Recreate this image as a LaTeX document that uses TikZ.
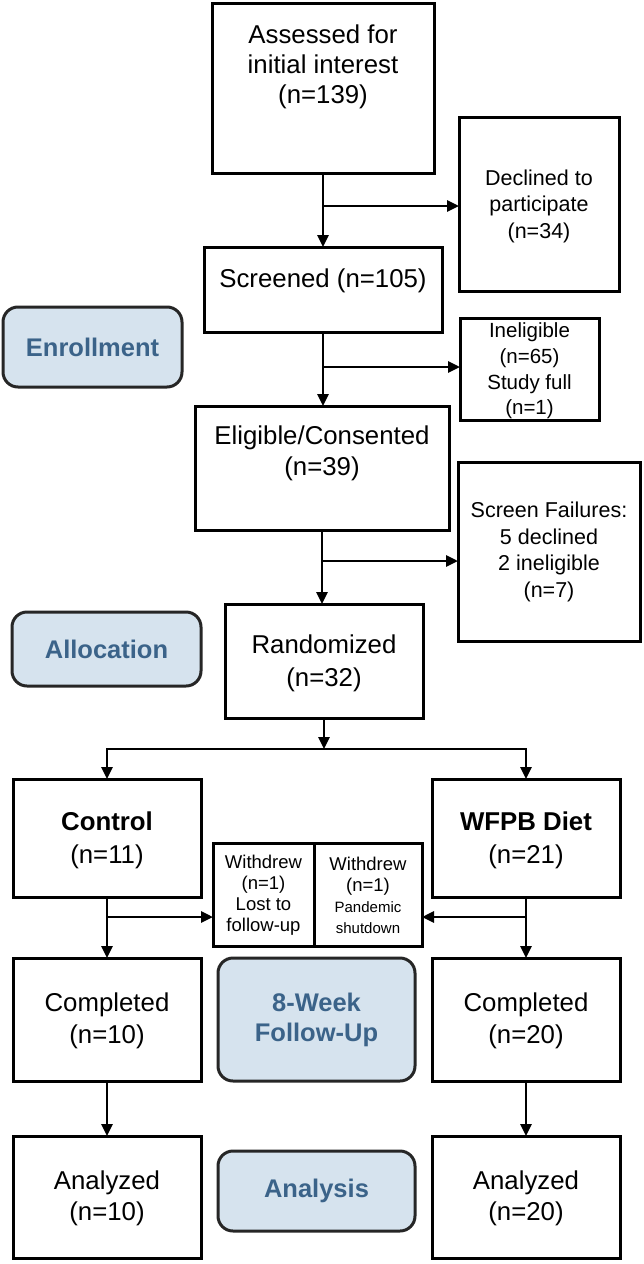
\documentclass[tikz,border=0pt]{standalone}
\usepackage{fontspec}
\setmainfont{Liberation Sans}
\usetikzlibrary{arrows.meta,calc}
\definecolor{lblue}{HTML}{D6E3EE}
\definecolor{dblue}{HTML}{3B6389}
\begin{document}
\begin{tikzpicture}[x=1pt,y=-1pt,
  box/.style={draw, line width=3pt, inner sep=0pt, outer sep=0pt},
  lab/.style={draw=black!85, line width=3pt, rounded corners=15pt, fill=lblue, inner sep=0pt, outer sep=0pt, text=dblue, align=center, font=\fontsize{25.5}{30}\selectfont\bfseries},
  txt/.style={align=center, inner sep=0pt, font=\fontsize{25.8}{30}\selectfont},
  side/.style={align=center, inner sep=0pt, font=\fontsize{21.5}{26.5}\selectfont},
  small/.style={align=center, inner sep=0pt, font=\fontsize{18.5}{21}\selectfont},
  arr/.style={line width=2.8pt, -{Triangle[length=12pt,width=11pt]}}
]
\useasboundingbox (0,0) rectangle (644,1264);

% boxes
\node[box, minimum width=222pt, minimum height=170pt] (assessed) at (323,88) {};
\node[box, minimum width=160pt, minimum height=174pt] (declined) at (539,204) {};
\node[box, minimum width=238pt, minimum height=85pt] (screened) at (323,289.5) {};
\node[lab, minimum width=179pt, minimum height=80pt] (enroll) at (92.5,347) {Enrollment};
\node[box, minimum width=139pt, minimum height=102pt] (inelig) at (529.5,369) {};
\node[box, minimum width=254pt, minimum height=124pt] (eligible) at (322,468) {};
\node[box, minimum width=182pt, minimum height=179pt] (sfail) at (549,551.5) {};
\node[box, minimum width=198pt, minimum height=114pt] (random) at (324,661) {};
\node[lab, minimum width=189pt, minimum height=74pt] (alloc) at (106.5,649) {Allocation};
\node[box, minimum width=188pt, minimum height=118pt] (control) at (107,838) {};
\node[box, minimum width=188pt, minimum height=118pt] (wfpb) at (526,838) {};
\node[box, minimum width=101pt, minimum height=103pt] (wl) at (263.5,894.5) {};
\node[box, minimum width=108pt, minimum height=103pt] (wr) at (368,894.5) {};
\node[box, minimum width=188pt, minimum height=123pt] (comp1) at (107,1019.5) {};
\node[lab, minimum width=197pt, minimum height=123pt] (follow) at (316.5,1019.5) {8-Week\\Follow-Up};
\node[box, minimum width=188pt, minimum height=123pt] (comp2) at (526,1019.5) {};
\node[box, minimum width=188pt, minimum height=122pt] (anal1) at (107,1197) {};
\node[lab, minimum width=197pt, minimum height=80pt] (analysis) at (316.5,1191) {Analysis};
\node[box, minimum width=188pt, minimum height=122pt] (anal2) at (526,1197) {};

% texts
\node[txt] (assessed-t) at (323,67) {Assessed for\\initial interest\\(n=139)};
\node[side] (declined-t) at (539,206) {Declined to\\participate\\(n=34)};
\node[txt] (screened-t) at (323,281) {Screened (n=105)};
\node[side, font=\fontsize{20.5}{25.7}\selectfont] (inelig-t) at (529.5,371) {Ineligible\\(n=65)\\Study full\\(n=1)};
\node[txt, font=\fontsize{25.8}{31}\selectfont] (eligible-t) at (322,453) {Eligible/Consented\\(n=39)};
\node[side] (sfail-t) at (549,552) {Screen Failures:\\5 declined\\2 ineligible\\(n=7)};
\node[txt, font=\fontsize{25.8}{33}\selectfont] (random-t) at (324,663) {Randomized\\(n=32)};
\node[txt, font=\fontsize{25.8}{33}\selectfont] (control-t) at (107,840) {\textbf{Control}\\(n=11)};
\node[txt, font=\fontsize{25.8}{33}\selectfont] (wfpb-t) at (526,840) {\textbf{WFPB Diet}\\(n=21)};
\node[small] (wl-t) at (263.5,895) {Withdrew\\(n=1)\\Lost to\\follow-up};
\node[small] (wr-t) at (368,895) {Withdrew\\(n=1)\\{\fontsize{15}{21}\selectfont Pandemic}\\{\fontsize{15}{21}\selectfont shutdown}};
\node[txt, font=\fontsize{25.8}{32}\selectfont] (comp1-t) at (107,1021) {Completed\\(n=10)};
\node[txt, font=\fontsize{25.8}{32}\selectfont] (comp2-t) at (526,1021) {Completed\\(n=20)};
\node[txt, font=\fontsize{25.8}{31}\selectfont] (anal1-t) at (107,1198) {Analyzed\\(n=10)};
\node[txt, font=\fontsize{25.8}{31}\selectfont] (anal2-t) at (526,1198) {Analyzed\\(n=20)};

% branch points
\coordinate (b1) at (323,206);
\coordinate (b2) at (323,367);
\coordinate (b3) at (323,561);
\coordinate (split) at (324,749);
\coordinate (wb1) at (107,917);
\coordinate (wb2) at (526,917);

% connectors
\draw[arr] (assessed.south) -- (screened.north);
\draw[arr] (b1) -- (b1 -| declined.west);
\draw[arr] (screened.south) -- (screened.south |- eligible.north);
\draw[arr] (b2) -- (b2 -| inelig.west);
\draw[arr] (eligible.south) -- (eligible.south |- random.north);
\draw[arr] (b3) -- (b3 -| sfail.west);
\draw[arr] (random.south) -- (split);
\draw[arr] (split) -| (control.north);
\draw[arr] (split) -| (wfpb.north);
\draw[arr] (control.south) -- (comp1.north);
\draw[arr] (wb1) -- (wb1 -| wl.west);
\draw[arr] (wfpb.south) -- (comp2.north);
\draw[arr] (wb2) -- (wb2 -| wr.east);
\draw[arr] (comp1.south) -- (anal1.north);
\draw[arr] (comp2.south) -- (anal2.north);
\end{tikzpicture}
\end{document}
